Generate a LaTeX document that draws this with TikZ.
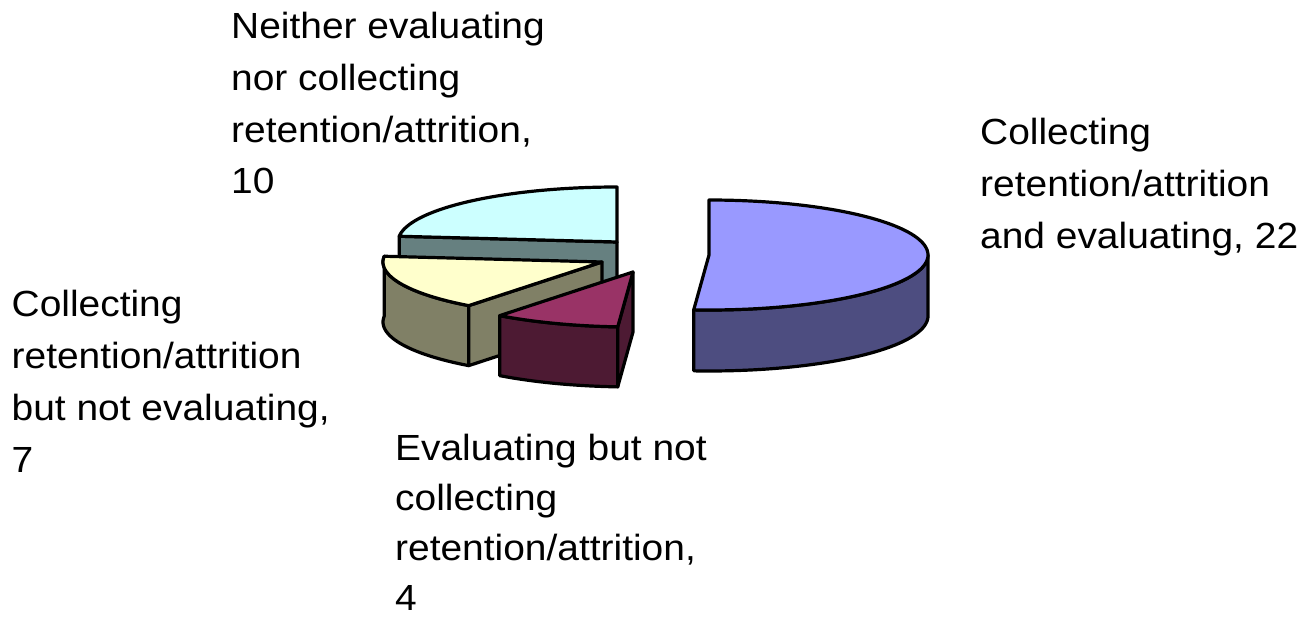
\documentclass[tikz,border=0pt]{standalone}
\usepackage{fontspec}
\setmainfont{Liberation Sans}[FakeStretch=1.07]
\definecolor{bluetop}{HTML}{9999FF}
\definecolor{blueside}{HTML}{4D4D80}
\definecolor{martop}{HTML}{993366}
\definecolor{marside}{HTML}{4D1A33}
\definecolor{yeltop}{HTML}{FFFFCC}
\definecolor{yelside}{HTML}{808066}
\definecolor{cyantop}{HTML}{CCFFFF}
\definecolor{cyanside}{HTML}{668080}
\tikzset{
  face/.style={draw=black, line width=3.2bp, line join=round},
  lbl/.style={anchor=base west, inner sep=0pt, font={\fontsize{36.5}{52}\selectfont}},
}
\begin{document}
\begin{tikzpicture}[x=1bp,y=-1bp]
\useasboundingbox (0,0) rectangle (1308,619);
% --- cyan slice: Neither (10)
\filldraw[face, fill=cyanside] (617,242) -- ({617+219*cos(174)},{242-55*sin(174)}) -- ++(0,60) -- (617,302) -- cycle;
\filldraw[face, fill=cyantop] (617,242) -- plot[domain=174:90, samples=60] ({617+219*cos(\x)},{242-55*sin(\x)}) -- cycle;
% --- blue slice: Collecting and evaluating (22)
\filldraw[face, fill=blueside] plot[domain=-94:0, samples=60] ({709+219*cos(\x)},{255-55*sin(\x)}) -- plot[domain=0:-94, samples=60] ({709+219*cos(\x)},{316-55*sin(\x)}) -- cycle;
\filldraw[face, fill=bluetop] (709,255) -- plot[domain=-94:90, samples=120] ({709+219*cos(\x)},{255-55*sin(\x)}) -- cycle;
% --- yellow slice: Collecting but not evaluating (7)
\filldraw[face, fill=yelside] plot[domain=174:232.5, samples=40] ({602+219*cos(\x)},{262-55*sin(\x)}) -- plot[domain=232.5:174, samples=40] ({602+219*cos(\x)},{322-55*sin(\x)}) -- cycle;
\filldraw[face, fill=yelside] (602,262) -- ({602+219*cos(232.5)},{262-55*sin(232.5)}) -- ++(0,60) -- (602,322) -- cycle;
\filldraw[face, fill=yeltop] (602,262) -- plot[domain=174:232.5, samples=40] ({602+219*cos(\x)},{262-55*sin(\x)}) -- cycle;
% --- maroon slice: Evaluating but not collecting (4)
\filldraw[face, fill=marside] plot[domain=232.5:266, samples=30] ({633+219*cos(\x)},{272-55*sin(\x)}) -- plot[domain=266:232.5, samples=30] ({633+219*cos(\x)},{332-55*sin(\x)}) -- cycle;
\filldraw[face, fill=marside] (633,272) -- ({633+219*cos(266)},{272-55*sin(266)}) -- ++(0,60) -- (633,332) -- cycle;
\filldraw[face, fill=martop] (633,272) -- plot[domain=232.5:266, samples=30] ({633+219*cos(\x)},{272-55*sin(\x)}) -- cycle;
% --- labels
\node[lbl] (neither) at (231,38.5) {\begin{tabular}[t]{@{}l@{}}Neither evaluating\\nor collecting\\retention/attrition,\\10\end{tabular}};
\node[lbl] (both) at (980,145) {\begin{tabular}[t]{@{}l@{}}Collecting\\retention/attrition\\and evaluating, 22\end{tabular}};
\node[lbl] (collect) at (11.5,316.7) {\begin{tabular}[t]{@{}l@{}}Collecting\\retention/attrition\\but not evaluating,\\7\end{tabular}};
\node[lbl, font={\fontsize{36.5}{50.5}\selectfont}] (eval) at (395,460) {\begin{tabular}[t]{@{}l@{}}Evaluating but not\\collecting\\retention/attrition,\\4\end{tabular}};
\end{tikzpicture}
\end{document}
